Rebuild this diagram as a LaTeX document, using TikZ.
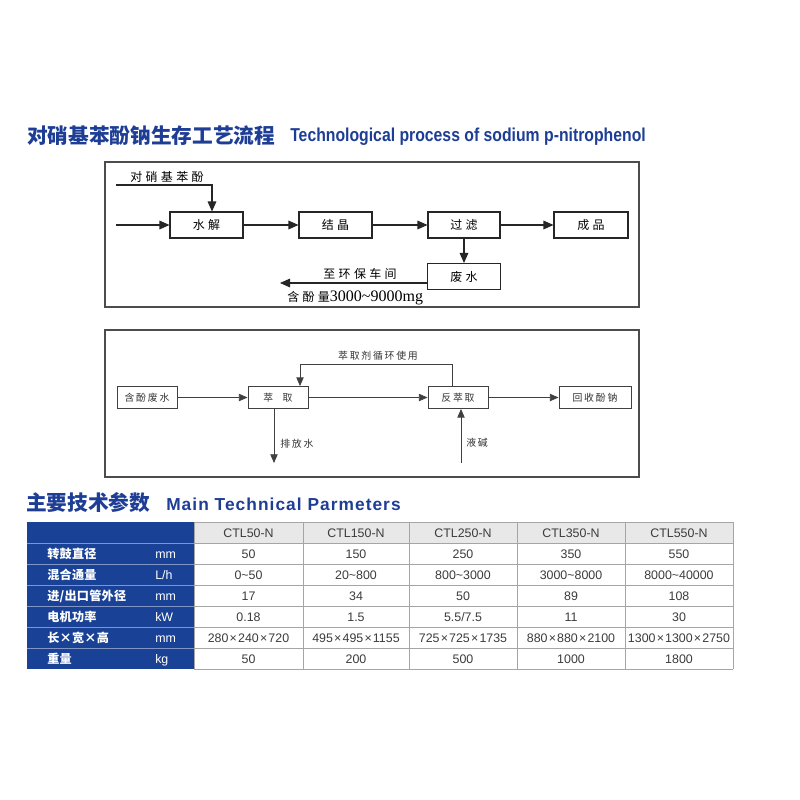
\documentclass[tikz,border=0pt]{standalone}
\usepackage{fontspec}
\setmainfont{Liberation Sans}
\newfontfamily\cjk{Noto Sans CJK SC}
\newfontfamily\cjkwide{Noto Sans CJK SC}[LetterSpace=28]
\newfontfamily\cjkmid{Noto Sans CJK SC}[LetterSpace=18]
\newfontfamily\cjktab{Noto Sans CJK SC}[LetterSpace=2]
\newfontfamily\engnarrow{Liberation Sans}[FakeStretch=0.845]
\newfontfamily\engwide{Liberation Sans}[LetterSpace=6]
\newfontfamily\serifnum{Liberation Serif}
\usetikzlibrary{arrows.meta,calc}
\newcommand\tmx{\kern0.9pt×\kern0.9pt}
\definecolor{tblue}{RGB}{30,62,150}
\definecolor{cblue}{RGB}{25,65,150}
\definecolor{hgray}{RGB}{232,232,232}
\definecolor{lgray}{RGB}{165,165,165}
\definecolor{txt}{RGB}{60,60,60}
\tikzset{
  frame/.style={draw=black!70, line width=1.1pt},
  boxa/.style={draw=black!85, line width=0.8pt, minimum height=19.5pt, inner sep=0pt, font=\cjkwide\fontsize{9}{9}\selectfont},
  arr/.style={draw=black!85, line width=0.8pt, -{Triangle[length=7.5pt,width=6.5pt]}},
  laba/.style={inner sep=0pt, font=\cjkwide\fontsize{9}{9}\selectfont},
  boxb/.style={draw=black!75, line width=0.7pt, minimum height=16.5pt, inner sep=0pt, font=\cjkmid\fontsize{7.4}{7.4}\selectfont, text=black!80},
  arrb/.style={draw=black!75, line width=0.6pt, -{Triangle[length=6.5pt,width=5.5pt]}},
  labb/.style={inner sep=0pt, font=\cjkmid\fontsize{7.4}{7.4}\selectfont, text=black!80},
  titlecn/.style={inner sep=0pt, anchor=west, text=tblue, font=\cjk\bfseries\fontsize{15.5}{15.5}\selectfont},
  tcell/.style={inner sep=0pt, anchor=base, text=txt, font=\fontsize{9.3}{9.3}\selectfont},
  tlab/.style={inner sep=0pt, anchor=base west, text=white, font=\cjktab\bfseries\fontsize{9.1}{9.1}\selectfont},
  tunit/.style={inner sep=0pt, anchor=base west, text=white, font=\fontsize{9.3}{9.3}\selectfont},
}
\begin{document}
\begin{tikzpicture}[x=0.75pt,y=-0.75pt]
\useasboundingbox[fill=white] (0,0) rectangle (800,800);

% ---------- title 1
\node[titlecn] (t1cn) at (27,136) {对硝基苯酚钠生存工艺流程};
\node[inner sep=0pt, anchor=west, text=tblue, font=\engnarrow\bfseries\fontsize{14}{14}\selectfont] (t1en) at (290,137) {Technological process of sodium p-nitrophenol};

% ---------- flow 1
\draw[frame] (105,162) rectangle (639,307);
\node[boxa, minimum width=73*0.75pt] (sj) at (206.5,225) {水解};
\node[boxa, minimum width=73*0.75pt] (jj) at (335.5,225) {结晶};
\node[boxa, minimum width=72*0.75pt] (gl) at (464,225) {过滤};
\node[boxa, minimum width=74*0.75pt] (cp) at (591,225) {成品};
\node[boxa, minimum width=73*0.75pt] (fs) at (464,276.5) {废水};
\coordinate (in0) at (116,225);
\coordinate (in1) at (116,185);
\coordinate (in1b) at (212,185);
\coordinate (out) at (280,283);
\node[laba, anchor=south west] (raw) at (130,183) {对硝基苯酚};
\draw[arr] (in0) -- (sj);
\draw[arr] (in1) -- (in1b) -- (sj.north -| in1b);
\draw[arr] (sj) -- (jj);
\draw[arr] (jj) -- (gl);
\draw[arr] (gl) -- (cp);
\draw[arr] (gl) -- (fs);
\draw[arr] (fs.west |- out) -- (out);
\node[laba, anchor=south east] (hb) at (397,280) {至环保车间};
\node[inner sep=0pt, anchor=north west] (cfl) at (287,291) {\cjkwide\fontsize{9}{9}\selectfont 含酚量\serifnum\fontsize{12}{12}\selectfont 3000\textasciitilde 9000mg};

% ---------- flow 2
\draw[frame] (105,330) rectangle (639,477);
\node[boxb, minimum width=60*0.75pt] (hf) at (147,397.5) {含酚废水};
\node[boxb, minimum width=60*0.75pt] (cq) at (278,397.5) {萃\hspace{7pt}取};
\node[boxb, minimum width=60*0.75pt] (fcq) at (458,397.5) {反萃取};
\node[boxb, minimum width=72*0.75pt] (hs) at (595,397.5) {回收酚钠};
\coordinate (r1) at (452,364);
\coordinate (r2) at (300,364);
\coordinate (dr) at (274,463);
\coordinate (ya) at (461,463);
\draw[arrb] (hf) -- (cq);
\draw[arrb] (cq) -- (fcq);
\draw[arrb] (fcq) -- (hs);
\draw[arrb] (fcq.north -| r1) -- (r1) -- (r2) -- (cq.north -| r2);
\draw[arrb] (cq.south -| dr) -- (dr);
\draw[arrb] (ya) -- (fcq.south -| ya);
\node[labb, anchor=center] (xh) at (378,356) {萃取剂循环使用};
\node[labb, anchor=west] (pf) at (280,444) {排放水};
\node[labb, anchor=west] (yj) at (466,443) {液碱};

% ---------- title 2
\node[titlecn] (t2cn) at (26,503) {主要技术参数};
\node[inner sep=0pt, anchor=west, text=tblue, font=\engwide\bfseries\fontsize{13}{13}\selectfont] (t2en) at (166,504) {Main Technical Parmeters};

% ---------- table
\fill[cblue] (27,522) rectangle (194,669);
\fill[hgray] (194,522) rectangle (733,543);
\foreach \y in {543,564,585,606,627,648}
  \draw[cblue!55!white, line width=0.6pt] (27,\y) -- (194,\y);
\foreach \y in {522,543,564,585,606,627,648,669}
  \draw[lgray, line width=0.7pt] (194,\y) -- (733,\y);
\foreach \x in {194,303,409,517,625,733}
  \draw[lgray, line width=0.7pt] (\x,522) -- (\x,669);

\foreach \nm/\cx [count=\i] in {CTL50-N/248.5,CTL150-N/356,CTL250-N/463,CTL350-N/571,CTL550-N/679}
  \node[tcell] (h\i) at (\cx,537) {\nm};

\foreach \lab/\unit/\ua/\ub/\uc/\ud/\ue [count=\r] in {
  转鼓直径/mm/50/150/250/350/550,
  混合通量/{L/h}/0\textasciitilde 50/20\textasciitilde 800/800\textasciitilde 3000/3000\textasciitilde 8000/8000\textasciitilde 40000,
  {进/出口管外径}/mm/17/34/50/89/108,
  电机功率/kW/0.18/1.5/{5.5/7.5}/11/30,
  长×宽×高/mm/280\tmx 240\tmx 720/495\tmx 495\tmx 1155/725\tmx 725\tmx 1735/880\tmx 880\tmx 2100/1300\tmx 1300\tmx 2750,
  重量/kg/50/200/500/1000/1800}
{
  \node[tlab] (l\r) at (47,{543+21*(\r-0.5)+4.5}) {\lab};
  \node[tunit] (u\r) at (155,{543+21*(\r-0.5)+4.5}) {\unit};
  \node[tcell] (d\r-1) at (248.5,{543+21*(\r-0.5)+4.5}) {\ua};
  \node[tcell] (d\r-2) at (356,{543+21*(\r-0.5)+4.5}) {\ub};
  \node[tcell] (d\r-3) at (463,{543+21*(\r-0.5)+4.5}) {\uc};
  \node[tcell] (d\r-4) at (571,{543+21*(\r-0.5)+4.5}) {\ud};
  \node[tcell] (d\r-5) at (679,{543+21*(\r-0.5)+4.5}) {\ue};
}
\end{tikzpicture}
\end{document}
